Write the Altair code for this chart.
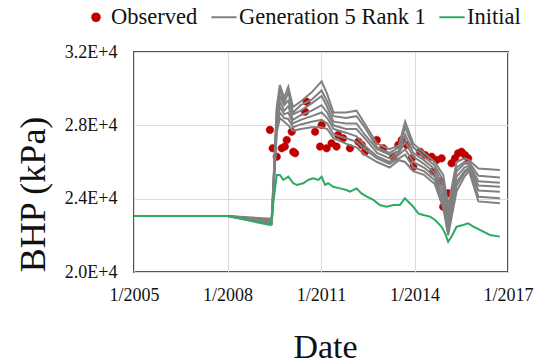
import altair as alt
import pandas as pd

# Observed bottom-hole pressure (decimal year, kPa)
obs_year = [2009.36, 2009.45, 2009.58, 2009.74, 2009.84, 2009.90, 2010.06, 2010.11, 2010.17,
            2010.49, 2010.54, 2010.81, 2010.97, 2011.02, 2011.18, 2011.34, 2011.50, 2011.55,
            2011.71, 2011.93, 2012.20, 2012.31, 2012.41, 2012.79, 2013.00, 2013.32, 2013.48,
            2013.59, 2013.75, 2013.91, 2013.96, 2014.18, 2014.34, 2014.55, 2014.60, 2014.71,
            2014.82, 2014.87, 2014.92, 2015.08, 2015.19, 2015.30, 2015.40, 2015.51, 2015.62,
            2015.72]
obs_bhp = [27750, 26750, 26290, 26750, 26840, 27200, 27650, 26560, 26480,
           28740, 29290, 27650, 26840, 28020, 26750, 27020, 26840, 27470,
           27290, 26750, 27110, 26930, 26560, 27200, 26750, 26290, 26930,
           27200, 26930, 26200, 25740, 26560, 26380, 26290, 25470, 26110,
           24930, 26200, 23560, 24290, 25930, 26200, 26470, 26560, 26380,
           26200]

# History-matched ensemble (Generation 5, Rank 1), shared time axis
sim_year = [2005.0, 2008.0, 2009.42, 2009.58, 2009.68, 2009.82, 2009.95, 2010.1, 2010.35,
            2010.7, 2011.02, 2011.2, 2011.4, 2011.8, 2012.14, 2012.4, 2012.8, 2013.2,
            2013.5, 2013.7, 2013.96, 2014.3, 2014.65, 2014.92, 2015.08, 2015.35, 2015.6,
            2015.75, 2016.05, 2016.74]
gen_run1 = [23050, 23050, 22900, 29000, 30200, 29500, 30100, 29000, 29300,
            29800, 30400, 29700, 28700, 28700, 28800, 28100, 27000, 26700,
            26900, 28200, 27000, 26500, 26000, 25300, 23600, 26000, 26200,
            26100, 25650, 25560]
gen_run2 = [23050, 23050, 22850, 28800, 29950, 29200, 29800, 28700, 29100,
            29400, 29900, 29300, 28500, 28400, 28500, 27900, 26800, 26500,
            26800, 27900, 26800, 26300, 25800, 25000, 23300, 25700, 26000,
            26000, 25250, 25160]
gen_run3 = [23050, 23050, 22800, 28500, 29600, 29100, 29350, 28600, 28800,
            29200, 29600, 29000, 28200, 28100, 28100, 27500, 26700, 26400,
            26600, 27500, 26500, 26100, 25600, 24700, 23050, 25500, 25900,
            25900, 24950, 24870]
gen_run4 = [23050, 23050, 22750, 28300, 29300, 28800, 29050, 28300, 28550,
            28800, 29100, 28700, 28000, 27800, 27800, 27300, 26500, 26200,
            26500, 27100, 26300, 25900, 25400, 24400, 22800, 25200, 25700,
            25800, 24720, 24650]
gen_run5 = [23050, 23050, 22700, 28100, 29000, 28600, 28700, 28100, 28300,
            28500, 28700, 28400, 27800, 27600, 27400, 26900, 26300, 26000,
            26400, 26700, 26000, 25700, 25200, 24100, 22500, 24900, 25500,
            25700, 24450, 24380]
gen_run6 = [23050, 23050, 22650, 27800, 28700, 28400, 28350, 27900, 28050,
            28200, 28300, 28100, 27500, 27300, 27100, 26700, 26200, 25900,
            26200, 26400, 25700, 25500, 25000, 23800, 22300, 24700, 25400,
            25600, 24100, 24020]
gen_run7 = [23050, 23050, 22600, 27600, 28400, 28200, 28000, 27700, 27800,
            27900, 27900, 27800, 27300, 27000, 26800, 26400, 26000, 25700,
            26100, 26000, 25500, 25300, 24800, 23500, 22000, 24400, 25200,
            25500, 23850, 23750]
gen_runs = [gen_run1, gen_run2, gen_run3, gen_run4, gen_run5, gen_run6, gen_run7]

# Initial (prior) model
init_year = [2005.0, 2008.0, 2009.38, 2009.58, 2009.68, 2009.79, 2009.95, 2010.11, 2010.22,
             2010.43, 2010.59, 2010.75, 2010.91, 2011.02, 2011.13, 2011.23, 2011.39, 2011.61,
             2011.82, 2011.93, 2012.14, 2012.30, 2012.47, 2012.68, 2012.89, 2013.10, 2013.32,
             2013.53, 2013.69, 2013.85, 2013.96, 2014.12, 2014.28, 2014.50, 2014.66, 2014.87,
             2014.98, 2015.08, 2015.19, 2015.35, 2015.56, 2015.72, 2015.89, 2016.21, 2016.42,
             2016.74]
init_bhp = [23050, 23050, 22560, 25290, 25290, 25020, 25200, 24840, 24750,
            24840, 25020, 25110, 25020, 25200, 24750, 24840, 24650, 24560,
            24470, 24380, 24560, 24290, 24110, 23930, 23650, 23560, 23650,
            23650, 24020, 23750, 23560, 23200, 23110, 23020, 22840, 22470,
            22110, 21650, 21930, 22470, 22560, 22650, 22470, 22200, 22020,
            21930]

series_names = ["Observed", "Generation 5 Rank 1", "Initial"]
series_colors = ["#c00000", "#808080", "#2bab62"]
# legend / point glyphs: small dot and a horizontal stroke (unit box -1..1)
dot_path = "M-0.3,0A0.3,0.3 0 1,0 0.3,0A0.3,0.3 0 1,0 -0.3,0Z"
line_path = "M-1,0L1,0"
series_shapes = [dot_path, line_path, line_path]

x_ticks = [2005, 2008, 2011, 2014, 2017]
y_ticks = [20000, 24000, 28000, 32000]

obs_df = pd.DataFrame({"year": obs_year, "bhp": obs_bhp, "series": "Observed"})
gen_df = pd.DataFrame(
    [
        {"year": yr, "bhp": v, "series": "Generation 5 Rank 1", "run": k}
        for k, run in enumerate(gen_runs)
        for yr, v in zip(sim_year, run)
    ]
)
init_df = pd.DataFrame({"year": init_year, "bhp": init_bhp, "series": "Initial"})

serif = "Liberation Serif"

x_enc = alt.X(
    "year:Q",
    scale=alt.Scale(domain=[2005, 2017], nice=False, zero=False),
    axis=alt.Axis(
        values=x_ticks,
        labelExpr="'1/' + datum.value",
        labelFlush=False,
        title="Date",
        titleFontSize=34,
        titleX=191,
        titleY=85,
        titleBaseline="alphabetic",
        labelPadding=14,
    ),
)
y_enc = alt.Y(
    "bhp:Q",
    scale=alt.Scale(domain=[20000, 32000], nice=False, zero=False),
    axis=alt.Axis(
        values=y_ticks,
        labelExpr="format(datum.value / 10000, '.1f') + 'E+4'",
        title="BHP (kPa)",
        titleFontSize=36,
        titleX=-90,
        titleY=142,
        titleBaseline="alphabetic",
        labelPadding=17,
    ),
)

color_scale = alt.Scale(domain=series_names, range=series_colors)
shape_scale = alt.Scale(domain=series_names, range=series_shapes)
legend = alt.Legend(
    title=None,
    orient="none",
    legendX=-52,
    legendY=-49,
    direction="horizontal",
    labelFont=serif,
    labelFontSize=22.5,
    labelColor="#111111",
    labelLimit=400,
    symbolSize=640,
    symbolStrokeWidth=2,
    labelOffset=1,
    columnPadding=9,
    padding=0,
)

obs_layer = alt.Chart(obs_df).mark_point(filled=True, size=640, opacity=1, strokeWidth=0.5).encode(
    x=x_enc,
    y=y_enc,
    fill=alt.Fill("series:N", scale=color_scale, legend=legend),
    stroke=alt.Stroke("series:N", scale=color_scale, legend=legend),
    shape=alt.Shape("series:N", scale=shape_scale, legend=legend),
)

gen_layer = alt.Chart(gen_df).mark_line(strokeWidth=2).encode(
    x=x_enc,
    y=y_enc,
    stroke=alt.Stroke("series:N", scale=color_scale, legend=None),
    detail="run:N",
)

init_layer = alt.Chart(init_df).mark_line(strokeWidth=2).encode(
    x=x_enc,
    y=y_enc,
    stroke=alt.Stroke("series:N", scale=color_scale, legend=None),
)

chart = (
    alt.layer(obs_layer, gen_layer, init_layer)
    .properties(
        width=374,
        height=220,
        background="white",
        autosize=alt.AutoSizeParams(type="none"),
        padding={"left": 134, "top": 52, "right": 27, "bottom": 92},
    )
    .configure_view(stroke="#555555", strokeWidth=2)
    .configure_axis(
        labelFont=serif,
        labelFontSize=18,
        labelColor="#111111",
        titleFont=serif,
        titleFontWeight="normal",
        titleColor="#111111",
        grid=True,
        gridColor="#dcdcdc",
        gridWidth=1,
        ticks=False,
        domain=False,
    )
)

chart.save("out.html", embed_options={"renderer": "svg", "actions": False})
